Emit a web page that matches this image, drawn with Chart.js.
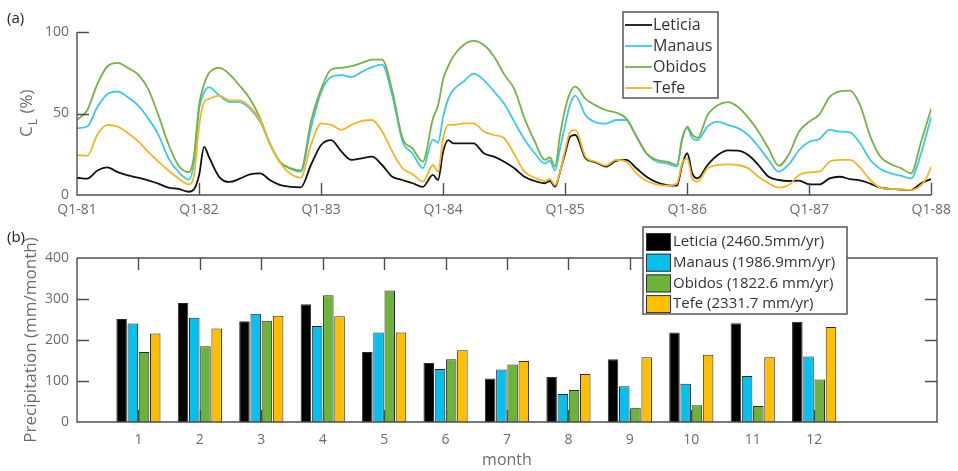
<!DOCTYPE html>
<html>
<head>
<meta charset="utf-8">
<title>Leticia, Manaus, Obidos, Tefe</title>
<script src="https://cdn.jsdelivr.net/npm/chart.js@4.4.1/dist/chart.umd.min.js"></script>
<style>
  html, body { margin: 0; padding: 0; background: #fff; }
  #wrap { position: relative; width: 958px; height: 471px; }
  canvas { position: absolute; left: 0; }
  #clChart { top: 0; }
  #prChart { top: 222px; }
</style>
</head>
<body>
<div id="wrap">
  <canvas id="clChart" width="958" height="222"></canvas>
  <canvas id="prChart" width="958" height="249"></canvas>
</div>
<script>
// (a) months since Jan 1981, with extra half-month samples at the sharp rises
const months = [0, 1, 2, 3, 4, 5, 6, 7, 8, 9, 10, 11, 11.5, 12, 12.5,
  13, 14, 15, 16, 17, 18, 19, 20, 21, 22, 23, 24, 25, 26, 27, 28, 29, 30, 31, 32, 33, 34, 35,
  35.5, 36, 36.5, 37, 38, 39, 40, 41, 42, 43, 44, 45, 46, 46.5, 47, 47.5, 48, 48.5,
  49, 50, 51, 52, 53, 54, 55, 56, 57, 58, 59, 59.5, 60, 60.5,
  61, 62, 63, 64, 65, 66, 67, 68, 69, 70, 71, 72, 73, 74, 75, 76, 77, 78, 79, 80, 81, 82, 83, 83.5, 84];
const quarterLabels = ["Q1-81", "Q1-82", "Q1-83", "Q1-84", "Q1-85", "Q1-86", "Q1-87", "Q1-88"];

const leticiaCL = [10.6, 10, 15, 17, 14, 12, 10.6, 9, 7, 4.5, 3.7, 2, 3.5, 12, 29.5,
  23, 11, 8, 10, 12.7, 13.3, 9, 6, 5, 4.7, 18.4, 30.7, 33.7, 26.6, 21.5, 22.5, 23.5, 18.4, 11.2, 9.2, 7.2, 5, 12.3,
  9.2, 26.6, 33.7, 31.7, 31.7, 31.7, 25.6, 23.5, 20.4, 16.4, 11.2, 8.6, 7.2, 8.6, 5.1, 14.3, 25.6, 35.8,
  36.8, 22.5, 20, 17.4, 20.9, 21.5, 16.4, 11.2, 7.8, 6.1, 5.7, 18.4, 25.6, 13.3,
  10.2, 18.4, 24.5, 27.4, 27.2, 24.5, 18.4, 11.2, 9.2, 8.6, 8.8, 6.5, 6.5, 10.2, 11.2, 9.8, 9, 7, 4.5, 3.7, 3.3, 3.1, 7.2, 8.6, 9.8];
const manausCL = [41, 42, 54, 62, 63.5, 60, 55, 47, 37, 22.5, 14, 9.5, 20, 52, 63,
  66, 61, 57, 57, 53, 45, 31, 20, 16, 14.3, 41, 63, 72.5, 73.5, 72.5, 75.5, 78.5, 80, 61, 33, 25.5, 16.5, 34,
  32, 48, 59, 64.5, 69.5, 74.5, 70.5, 63.5, 56, 45, 34, 25.6, 19.4, 21, 15, 28.6, 43, 56,
  61, 49, 44.6, 43.8, 46, 46, 35.8, 25.6, 20.4, 19.4, 17.4, 34.8, 41, 34.8,
  33.7, 42, 45, 43, 41, 36.8, 29.7, 21.5, 14.3, 18.8, 27.6, 32.7, 34.4, 39.9, 38.9, 38.4, 31.7, 21.5, 16, 13.3, 11.9, 10.2, 25.6, 36.8, 48];
const obidosCL = [46, 52, 68, 79, 81, 78, 74, 65, 49, 31, 18, 14, 24, 55, 68,
  75, 78, 74, 67, 59, 47, 31, 20, 16.5, 15, 45, 65, 77, 78, 79, 81, 83, 83, 64, 35, 28.5, 20.5, 47,
  55, 71, 79, 85, 92, 94.5, 92, 85, 74, 65, 47, 33, 21.5, 23, 17.5, 37, 53, 63,
  66.5, 59, 55, 52, 50.5, 47, 36, 25.5, 21.5, 20.5, 18.5, 34, 42, 37,
  35, 49, 55, 57, 54, 47.5, 39, 28.5, 18, 25, 39, 45, 49.5, 60, 63.5, 64, 55, 36, 23.5, 19, 16.5, 13.3, 32.7, 43, 53];
const tefeCL = [24.5, 24, 37, 43, 42, 38, 33, 26.5, 20.5, 15, 10, 6.5, 12, 42, 57,
  59, 61, 58, 58, 54, 46, 31, 19.5, 13, 10.6, 30.7, 44, 43, 40, 43, 45.4, 46, 39, 26.6, 16.4, 12.7, 8.2, 18.4,
  14.3, 34.8, 43, 43, 44, 44, 39, 36.8, 34.8, 25, 14.3, 10.6, 8.6, 9.8, 6.1, 14.3, 27.6, 38.9,
  39.9, 23.5, 20.4, 18, 21.5, 20.4, 13.3, 8.6, 6.5, 5.7, 7.2, 19.4, 22.5, 10.2,
  8.2, 16.4, 18.4, 18.8, 18.4, 16.4, 11.2, 7.2, 4.5, 6.1, 12.3, 13.9, 14.3, 20.4, 21.5, 21.5, 16.8, 9.2, 4.5, 3.7, 3.5, 3.1, 6.1, 10.2, 17.4];

// (b) mean monthly precipitation, mm/month
const monthNums = [1, 2, 3, 4, 5, 6, 7, 8, 9, 10, 11, 12];
const leticiaP = [251, 290, 246, 287, 171, 144, 106, 110, 153, 218, 241, 244.5];
const manausP = [240, 254, 264, 234, 218, 129, 128, 68, 87, 93, 112, 159.9];
const obidosP = [171, 185, 247, 309, 321, 153, 140, 78, 35, 41, 39, 103.6];
const tefeP = [216, 228, 259, 258, 218, 175, 149, 117, 158, 164, 158, 231.7];

const FONT = '"Open Sans", "Noto Sans", sans-serif';
const TICK_COLOR = "#6b6b6b";
const AXIS_COLOR = "#4d4d4d";
const TICK_LEN = 12;

const lineColors = { leticia: "#111111", manaus: "#3cc8e8", obidos: "#74b343", tefe: "#f5b523" };
const barColors = { leticia: "#000000", manaus: "#05c0ee", obidos: "#6cb33a", tefe: "#ffbf00" };

// MATLAB-style inward ticks and axis lines
function axesPlugin(xTicks, yTicks, boxed) {
  return {
    id: "axesLines",
    afterDatasetsDraw(chart) {
      const { ctx, chartArea: a, scales } = chart;
      ctx.save();
      ctx.strokeStyle = AXIS_COLOR;
      ctx.lineWidth = 1.4;
      ctx.beginPath();
      xTicks.forEach((v) => {
        const px = Math.round(scales.x.getPixelForValue(v)) + 0.5;
        ctx.moveTo(px, a.bottom);
        ctx.lineTo(px, a.bottom - TICK_LEN);
        if (boxed) {
          ctx.moveTo(px, a.top);
          ctx.lineTo(px, a.top + TICK_LEN);
        }
      });
      yTicks.forEach((v) => {
        const py = Math.round(scales.y.getPixelForValue(v)) + 0.5;
        ctx.moveTo(a.left, py);
        ctx.lineTo(a.left + TICK_LEN, py);
        if (boxed) {
          ctx.moveTo(a.right, py);
          ctx.lineTo(a.right - TICK_LEN, py);
        }
      });
      ctx.moveTo(a.left, a.top);
      ctx.lineTo(a.left, a.bottom);
      ctx.lineTo(a.right, a.bottom);
      if (boxed) {
        ctx.lineTo(a.right, a.top);
        ctx.lineTo(a.left, a.top);
      }
      ctx.stroke();
      ctx.restore();
    },
  };
}

// boxed legend drawn inside the figure
function legendPlugin(box, rows, kind) {
  return {
    id: "boxLegend",
    afterDraw(chart) {
      const ctx = chart.ctx;
      ctx.save();
      ctx.fillStyle = "#fff";
      ctx.fillRect(box.x, box.y, box.w, box.h);
      ctx.strokeStyle = "#555";
      ctx.lineWidth = 1.5;
      ctx.strokeRect(box.x, box.y, box.w, box.h);
      ctx.font = box.fontSize + "px " + FONT;
      ctx.textBaseline = "middle";
      chart.data.datasets.forEach((ds, i) => {
        const y = rows.y0 + i * rows.step;
        if (kind === "line") {
          ctx.strokeStyle = ds.borderColor;
          ctx.lineWidth = 1.8;
          ctx.beginPath();
          ctx.moveTo(rows.sx, y);
          ctx.lineTo(rows.sx + rows.sw, y);
          ctx.stroke();
        } else {
          ctx.fillStyle = ds.backgroundColor;
          ctx.fillRect(rows.sx, y - rows.sh / 2, rows.sw, rows.sh);
          ctx.strokeStyle = "#333";
          ctx.lineWidth = 1;
          ctx.strokeRect(rows.sx + 0.5, y - rows.sh / 2 + 0.5, rows.sw - 1, rows.sh - 1);
        }
        ctx.fillStyle = "#333";
        ctx.fillText(ds.label, rows.tx, y);
      });
      ctx.restore();
    },
  };
}

// panel letters and the C_L axis title with its subscript
function textPlugin(letter, letterY, drawClTitle) {
  return {
    id: "panelText",
    afterDraw(chart) {
      const ctx = chart.ctx;
      ctx.save();
      ctx.fillStyle = "#222";
      ctx.font = "15px " + FONT;
      ctx.textBaseline = "alphabetic";
      ctx.fillText(letter, 7, letterY);
      if (drawClTitle) {
        ctx.fillStyle = TICK_COLOR;
        ctx.translate(32, 137);
        ctx.rotate(-Math.PI / 2);
        ctx.font = "17px " + FONT;
        ctx.fillText("C", 0, 0);
        const wc = ctx.measureText("C").width;
        ctx.font = "12px " + FONT;
        ctx.fillText("L", wc + 1, 5);
        const wl = ctx.measureText("L").width;
        ctx.font = "17px " + FONT;
        ctx.fillText(" (%)", wc + wl + 2, 0);
      }
      ctx.restore();
    },
  };
}

const tickFont = { family: FONT, size: 14 };

const clSeries = [
  { label: "Leticia", values: leticiaCL, color: lineColors.leticia, order: 4 },
  { label: "Manaus", values: manausCL, color: lineColors.manaus, order: 3 },
  { label: "Obidos", values: obidosCL, color: lineColors.obidos, order: 2 },
  { label: "Tefe", values: tefeCL, color: lineColors.tefe, order: 1 },
];

new Chart(document.getElementById("clChart"), {
  type: "line",
  data: {
    datasets: clSeries.map((s) => ({
      label: s.label,
      data: months.map((m, i) => ({ x: m, y: s.values[i] })),
      borderColor: s.color,
      backgroundColor: s.color,
      borderWidth: 1.8,
      pointRadius: 0,
      tension: 0.3,
      cubicInterpolationMode: "monotone",
      order: s.order,
    })),
  },
  options: {
    responsive: false,
    animation: false,
    layout: { padding: { left: 0, right: 21, top: 32, bottom: 0 } },
    plugins: { legend: { display: false }, tooltip: { enabled: false } },
    scales: {
      x: {
        type: "linear",
        min: 0,
        max: 84,
        afterBuildTicks: (s) => { s.ticks = quarterLabels.map((_, i) => ({ value: i * 12 })); },
        ticks: { callback: (v) => quarterLabels[v / 12], color: TICK_COLOR, font: tickFont, padding: 7, maxRotation: 0, autoSkip: false },
        grid: { display: false, drawTicks: false },
        border: { display: false },
        afterFit: (s) => { s.height = 27; },
      },
      y: {
        min: 0,
        max: 100,
        afterBuildTicks: (s) => { s.ticks = [0, 50, 100].map((v) => ({ value: v })); },
        ticks: { color: TICK_COLOR, font: tickFont, padding: 8 },
        grid: { display: false, drawTicks: false },
        border: { display: false },
        afterFit: (s) => { s.width = 77; },
      },
    },
  },
  plugins: [
    axesPlugin([12, 24, 36, 48, 60, 72, 84], [50, 100], false),
    legendPlugin({ x: 623, y: 12, w: 95, h: 86, fontSize: 16 }, { y0: 25, step: 21, sx: 625, sw: 27, tx: 653 }, "line"),
    textPlugin("(a)", 23, true),
  ],
});

const prSeries = [
  { label: "Leticia (2460.5mm/yr)", values: leticiaP, color: barColors.leticia },
  { label: "Manaus (1986.9mm/yr)", values: manausP, color: barColors.manaus },
  { label: "Obidos (1822.6 mm/yr)", values: obidosP, color: barColors.obidos },
  { label: "Tefe (2331.7 mm/yr)", values: tefeP, color: barColors.tefe },
];

new Chart(document.getElementById("prChart"), {
  type: "bar",
  data: {
    datasets: prSeries.map((s) => ({
      label: s.label,
      data: monthNums.map((m, i) => ({ x: m, y: s.values[i] })),
      backgroundColor: s.color,
      borderColor: "#2b2b2b",
      borderWidth: 1,
      categoryPercentage: 0.73,
      barPercentage: 0.94,
    })),
  },
  options: {
    responsive: false,
    animation: false,
    layout: { padding: { left: 0, right: 21, top: 36, bottom: 0 } },
    plugins: { legend: { display: false }, tooltip: { enabled: false } },
    scales: {
      x: {
        type: "linear",
        min: 0,
        max: 14,
        offset: false,
        afterBuildTicks: (s) => { s.ticks = monthNums.map((v) => ({ value: v })); },
        ticks: { color: TICK_COLOR, font: tickFont, padding: 10, maxRotation: 0, autoSkip: false },
        grid: { display: false, drawTicks: false, offset: false },
        border: { display: false },
        title: { display: true, text: "month", color: TICK_COLOR, font: { family: FONT, size: 16 }, padding: { top: 0, bottom: 1 } },
        afterFit: (s) => { s.height = 49; },
      },
      y: {
        min: 0,
        max: 400,
        afterBuildTicks: (s) => { s.ticks = [0, 100, 200, 300, 400].map((v) => ({ value: v })); },
        ticks: { color: TICK_COLOR, font: tickFont, padding: 8 },
        grid: { display: false, drawTicks: false },
        border: { display: false },
        title: { display: true, text: "Precipitation (mm/month)", color: TICK_COLOR, font: { family: FONT, size: 17 }, padding: { top: 21, bottom: 0 } },
        afterFit: (s) => { s.width = 77; },
      },
    },
  },
  plugins: [
    axesPlugin(monthNums, [100, 200, 300], true),
    legendPlugin({ x: 643, y: 5, w: 204, h: 87, fontSize: 15 }, { y0: 20, step: 20.7, sx: 646, sw: 25, sh: 18, tx: 673 }, "bar"),
    textPlugin("(b)", 20, false),
  ],
});
</script>
</body>
</html>
